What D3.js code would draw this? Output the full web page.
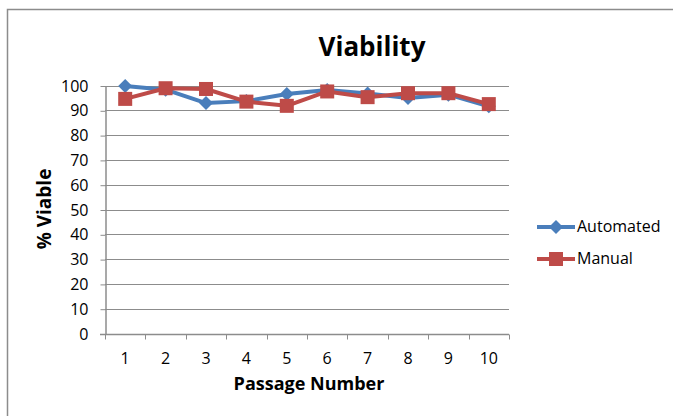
<!DOCTYPE html>
<html>
<head>
<meta charset="utf-8">
<script src="https://cdn.jsdelivr.net/npm/d3@7"></script>
<style>
  body { margin: 0; background: #fff; }
  text { font-family: "Open Sans", Lato, sans-serif; fill: #000; }
</style>
</head>
<body>
<div id="chart"></div>
<script>
// Data
const passages = ["1", "2", "3", "4", "5", "6", "7", "8", "9", "10"];
const automated = [99.8, 98.3, 92.9, 93.7, 96.6, 98.2, 96.8, 95.0, 96.3, 91.6];
const manual = [94.6, 98.9, 98.6, 93.5, 91.8, 97.6, 95.3, 96.9, 96.9, 92.5];
const yTicks = [0, 10, 20, 30, 40, 50, 60, 70, 80, 90, 100];

const W = 673, H = 416;
const plot = { left: 105, right: 509, top: 85.5, bottom: 333.5 };
const fontFam = "'Open Sans', Lato, sans-serif";

let svg = d3.select("#chart").append("svg")
    .attr("width", W)
    .attr("height", H);

// outer chart border
svg.append("rect")
    .attr("x", 7.5).attr("y", 9.5)
    .attr("width", 700).attr("height", 450)
    .attr("fill", "none")
    .attr("stroke", "#8c8c8c")
    .attr("stroke-width", 1.5);

let x = d3.scaleBand()
    .domain(passages)
    .range([plot.left, plot.right]);

let y = d3.scaleLinear()
    .domain([0, 100])
    .range([plot.bottom, plot.top]);

// gridlines
svg.append("g")
    .selectAll("line")
    .data(yTicks.filter(d => d > 0))
    .enter().append("line")
    .attr("x1", plot.left).attr("x2", plot.right)
    .attr("y1", d => Math.round(y(d)) + 0.5)
    .attr("y2", d => Math.round(y(d)) + 0.5)
    .attr("stroke", "#8c8c8c")
    .attr("stroke-width", 1);

// Y axis
let yAxis = svg.append("g")
    .attr("transform", `translate(${plot.left + 0.5}, 0.5)`)
    .call(d3.axisLeft(y).tickValues(yTicks).tickSize(5).tickPadding(12).tickSizeOuter(0));
yAxis.select(".domain").attr("stroke", "#8c8c8c").attr("stroke-width", 1.5);
yAxis.selectAll(".tick line").attr("stroke", "#8c8c8c");
yAxis.selectAll(".tick text")
    .style("font-size", "16px")
    .style("font-family", fontFam);

// X axis: ticks at category boundaries
let xAxis = svg.append("g")
    .attr("transform", `translate(0, ${Math.round(plot.bottom) + 0.5})`);
xAxis.append("line")
    .attr("x1", plot.left - 5).attr("x2", plot.right)
    .attr("stroke", "#8c8c8c").attr("stroke-width", 1.5);
xAxis.selectAll(".bt")
    .data(passages.concat(["end"]))
    .enter().append("line")
    .attr("x1", (d, i) => Math.round(plot.left + i * x.bandwidth()) + 0.5)
    .attr("x2", (d, i) => Math.round(plot.left + i * x.bandwidth()) + 0.5)
    .attr("y1", 0).attr("y2", 5)
    .attr("stroke", "#8c8c8c");
xAxis.selectAll(".lbl")
    .data(passages)
    .enter().append("text")
    .attr("x", d => x(d) + x.bandwidth() / 2)
    .attr("y", 29)
    .attr("text-anchor", "middle")
    .style("font-size", "16px")
    .text(d => d);

// series
const series = [
    { name: "Automated", values: automated, color: "#4a7ebb", marker: "diamond" },
    { name: "Manual", values: manual, color: "#be4b48", marker: "square" }
];

let line = d3.line()
    .x((d, i) => x(passages[i]) + x.bandwidth() / 2)
    .y(d => y(d));

function drawMarker(g, type, color) {
    if (type === "diamond") {
        g.append("path")
            .attr("d", "M0,-7L7,0L0,7L-7,0Z")
            .attr("fill", color);
    } else {
        g.append("rect")
            .attr("x", -7).attr("y", -7)
            .attr("width", 14).attr("height", 14)
            .attr("fill", color);
    }
}

series.forEach(s => {
    svg.append("path")
        .datum(s.values)
        .attr("fill", "none")
        .attr("stroke", s.color)
        .attr("stroke-width", 4)
        .attr("stroke-linejoin", "round")
        .attr("d", line);
    s.values.forEach((v, i) => {
        let g = svg.append("g")
            .attr("transform", `translate(${x(passages[i]) + x.bandwidth() / 2}, ${y(v)})`);
        drawMarker(g, s.marker, s.color);
    });
});

// legend
series.forEach((s, i) => {
    let ly = 227 + i * 32;
    let g = svg.append("g");
    g.append("line")
        .attr("x1", 537).attr("x2", 575)
        .attr("y1", ly).attr("y2", ly)
        .attr("stroke", s.color).attr("stroke-width", 4);
    let m = g.append("g").attr("transform", `translate(556, ${ly})`);
    drawMarker(m, s.marker, s.color);
    g.append("text")
        .attr("x", 577).attr("y", ly + 5)
        .style("font-size", "16px")
        .text(s.name);
});

// title and axis labels
svg.append("text")
    .attr("x", 372).attr("y", 56)
    .attr("text-anchor", "middle")
    .style("font-size", "26px")
    .style("font-weight", "bold")
    .text("Viability");

svg.append("text")
    .attr("x", 309).attr("y", 390)
    .attr("text-anchor", "middle")
    .style("font-size", "18px")
    .style("font-weight", "bold")
    .text("Passage Number");

svg.append("text")
    .attr("transform", "translate(51, 209) rotate(-90)")
    .attr("text-anchor", "middle")
    .style("font-size", "19px")
    .style("font-weight", "bold")
    .text("% Viable");
</script>
</body>
</html>
